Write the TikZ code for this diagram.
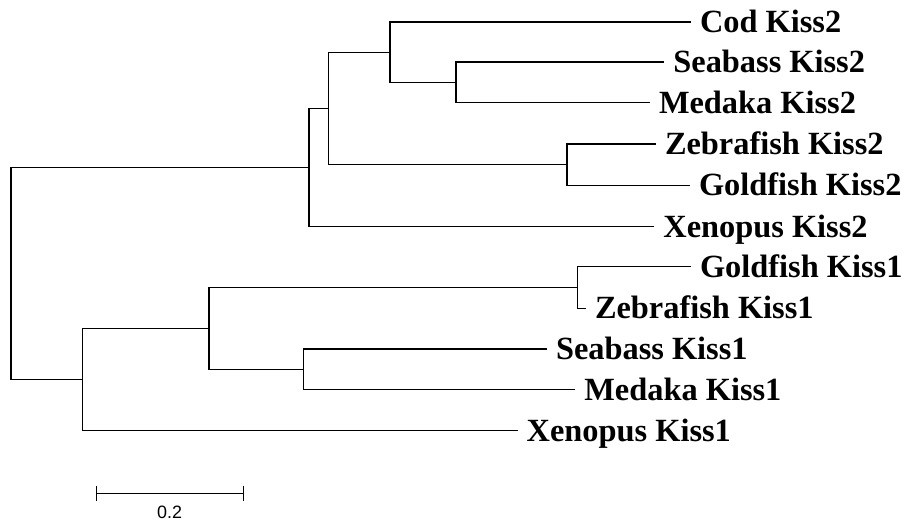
\documentclass[tikz,border=0pt]{standalone}
\usepackage{fontspec}
\setmainfont{Liberation Serif}
\newfontfamily\barfont{Liberation Sans}
\usetikzlibrary{arrows.meta}
\tikzset{
  branch/.style={line width=1.5bp, black, line cap=rect},
  taxon/.style={anchor=base west, inner sep=0pt, xshift=9.5bp, yshift=-10.6bp,
    font=\fontsize{32.5}{36}\selectfont\bfseries},
  scalelbl/.style={anchor=base, inner sep=0pt, font=\barfont\fontsize{18}{20}\selectfont}
}
\begin{document}
\begin{tikzpicture}[x=1bp,y=-1bp]
\useasboundingbox (0,0) rectangle (904,523);
% internal nodes
\coordinate (root) at (11,273.5);
\coordinate (k2) at (309,167.7);
\coordinate (a2) at (328.7,108.6);
\coordinate (b2) at (390,52.3);
\coordinate (sm2) at (456,82.4);
\coordinate (zg2) at (567,164.7);
\coordinate (k1) at (82.3,379.3);
\coordinate (c1) at (209,328.3);
\coordinate (gz1) at (577.7,287.5);
\coordinate (sm1) at (303.3,369.3);
% tips
\coordinate (tCod2) at (690.3,22);
\coordinate (tSea2) at (663.7,62);
\coordinate (tMed2) at (649.3,102.7);
\coordinate (tZeb2) at (655.3,144);
\coordinate (tGol2) at (689.3,185.3);
\coordinate (tXen2) at (653.7,226.7);
\coordinate (tGol1) at (690.3,266.7);
\coordinate (tZeb1) at (585.3,308.3);
\coordinate (tSea1) at (546.3,349);
\coordinate (tMed1) at (574.7,389.7);
\coordinate (tXen1) at (517,430.7);
% labels
\node[taxon] (lCod2) at (tCod2) {Cod Kiss2};
\node[taxon] (lSea2) at (tSea2) {Seabass Kiss2};
\node[taxon] (lMed2) at (tMed2) {Medaka Kiss2};
\node[taxon] (lZeb2) at (tZeb2) {Zebrafish Kiss2};
\node[taxon] (lGol2) at (tGol2) {Goldfish Kiss2};
\node[taxon] (lXen2) at (tXen2) {Xenopus Kiss2};
\node[taxon] (lGol1) at (tGol1) {Goldfish Kiss1};
\node[taxon] (lZeb1) at (tZeb1) {Zebrafish Kiss1};
\node[taxon] (lSea1) at (tSea1) {Seabass Kiss1};
\node[taxon] (lMed1) at (tMed1) {Medaka Kiss1};
\node[taxon] (lXen1) at (tXen1) {Xenopus Kiss1};
% branches
\draw[branch] (root) |- (k2);
\draw[branch] (root) |- (k1);
\draw[branch] (k2) |- (a2);
\draw[branch] (k2) |- (tXen2);
\draw[branch] (a2) |- (b2);
\draw[branch] (a2) |- (zg2);
\draw[branch] (b2) |- (tCod2);
\draw[branch] (b2) |- (sm2);
\draw[branch] (sm2) |- (tSea2);
\draw[branch] (sm2) |- (tMed2);
\draw[branch] (zg2) |- (tZeb2);
\draw[branch] (zg2) |- (tGol2);
\draw[branch] (k1) |- (c1);
\draw[branch] (k1) |- (tXen1);
\draw[branch] (c1) |- (gz1);
\draw[branch] (c1) |- (sm1);
\draw[branch] (gz1) |- (tGol1);
\draw[branch] (gz1) |- (tZeb1);
\draw[branch] (sm1) |- (tSea1);
\draw[branch] (sm1) |- (tMed1);
% scale bar
\coordinate (sbL) at (95.7,493.3);
\coordinate (sbR) at (244,493.3);
\draw[line width=1.5bp, {Bar[width=15.5bp,line width=1.5bp]}-{Bar[width=15.5bp,line width=1.5bp]}] (sbL) -- (sbR);
\node[scalelbl] (sblab) at (169.7,518.5) {0.2};
\end{tikzpicture}
\end{document}
